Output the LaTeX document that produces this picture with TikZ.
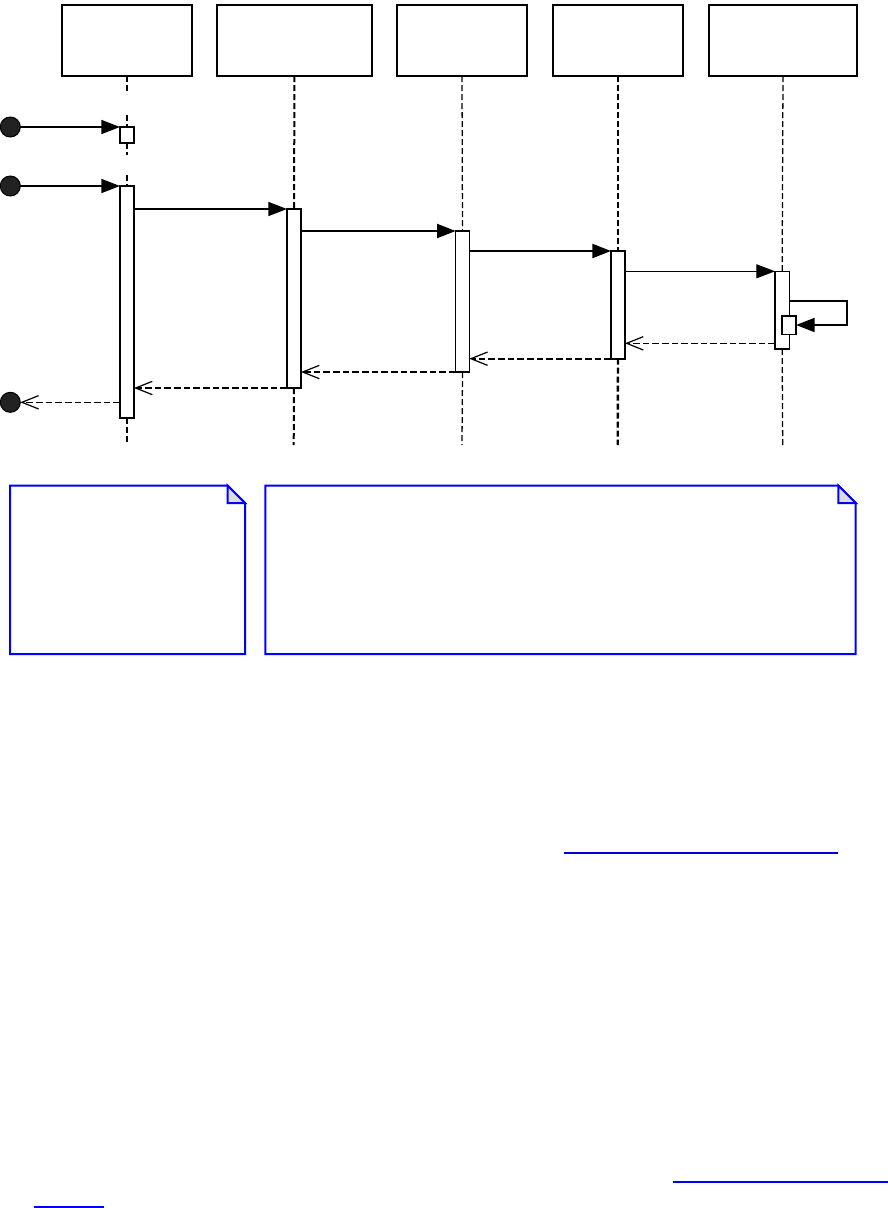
\documentclass[tikz,border=0pt]{standalone}
\usetikzlibrary{arrows.meta,fit,calc}
\definecolor{notefold}{HTML}{DDDDDD}
\definecolor{noteblue}{HTML}{0000FF}
\definecolor{linkdark}{HTML}{0000CC}
\definecolor{actorfill}{HTML}{222222}
\begin{document}
\begin{tikzpicture}[x=0.75pt,y=-0.75pt,
  headbox/.style={draw=black,fill=white,inner sep=0pt,outer sep=0pt},
  actbox/.style={draw=black,fill=white,inner sep=0pt,outer sep=0pt},
  actor/.style={circle,draw=black,fill=actorfill,minimum size=15pt,inner sep=0pt,outer sep=0pt,line width=0.75pt},
  life/.style={draw=black,dash pattern=on 4.5pt off 2.25pt},
  callmsg/.style={draw=black,-{Triangle[length=14pt,width=10.5pt]}},
  retmsg/.style={draw=black,dash pattern=on 5pt off 2.25pt,-{Straight Barb[length=12.5pt,width=10pt,line width=0.9pt]}},
  notebox/.style={draw=noteblue,line width=1.5pt,fill=white},
  notecorner/.style={draw=noteblue,line width=1.5pt,fill=notefold},
  linkline/.style={line width=1.5pt}
]
\useasboundingbox (0,0) rectangle (888,1208);

% header boxes
\node[headbox,line width=2.2pt,fit={(62,5)(192,76)}] (h1) {};
\node[headbox,line width=1.5pt,fit={(217,5)(372,76)}] (h2) {};
\node[headbox,line width=1.5pt,fit={(397,5)(527,76)}] (h3) {};
\node[headbox,line width=1.5pt,fit={(553,5)(683,76)}] (h4) {};
\node[headbox,line width=2.2pt,fit={(709,5)(857,76)}] (h5) {};

% bottom ends of lifelines
\coordinate (e1) at (127,445);
\coordinate (e2) at (293.7,445);
\coordinate (e3) at (462,445);
\coordinate (e4) at (617.7,445);
\coordinate (e5) at (782.7,445);

% activation boxes
\node[actbox,line width=1.5pt,fit={(120,127)(134,143)}] (s1) {};
\node[actbox,line width=1.5pt,fit={(120,186)(134,418)}] (a1) {};
\node[actbox,line width=1.5pt,fit={(287,209)(301,388)}] (a2) {};
\node[actbox,line width=0.9pt,fit={(455.7,231)(469.3,372)}] (a3) {};
\node[actbox,line width=1.8pt,fit={(611,251)(625,358.7)}] (a4) {};
\node[actbox,line width=1.2pt,fit={(775,271.3)(789.3,349)}] (a5) {};

% lifelines
\draw[life,line width=1.5pt] (h1.south) -- (127,94);
\draw[life,line width=1.5pt] (127,115) -- (s1.north);
\draw[life,line width=1.5pt] (s1.south) -- (127,155);
\draw[life,line width=1.5pt] (127,175) -- (a1.north);
\draw[life,line width=1.5pt] (a1.south) -- (e1);
\draw[life,line width=1.5pt] (h2.south) -- (a2.north);
\draw[life,line width=1.5pt] (a2.south) -- (e2);
\draw[life,line width=0.95pt] (h3.south) -- (a3.north);
\draw[life,line width=0.95pt] (a3.south) -- (e3);
\draw[life,line width=1.8pt] (h4.south) -- (a4.north);
\draw[life,line width=1.8pt] (a4.south) -- (e4);
\draw[life,line width=0.95pt] (h5.south) -- (a5.north);
\draw[life,line width=0.95pt] (a5.south) -- (e5);

% nested activation on lifeline 5
\node[actbox,line width=1.2pt,fit={(782,315.7)(796,334.3)}] (n5) {};

% actors
\node[actor] (c1) at (10.3,127) {};
\node[actor] (c2) at (10.3,186) {};
\node[actor] (c3) at (10.3,402.3) {};

% call messages
\draw[callmsg,line width=1.2pt] (c1.east) -- (s1.north west);
\draw[callmsg,line width=1.2pt] (c2.east) -- (a1.north west);
\draw[callmsg,line width=1.2pt] (a1.east |- a2.north) -- (a2.north west);
\draw[callmsg,line width=1.6pt] (a2.east |- a3.north) -- (a3.north west);
\draw[callmsg,line width=1.6pt] (a3.east |- a4.north) -- (a4.north west);
\draw[callmsg,line width=0.9pt] (a4.east |- a5.north) -- (a5.north west);
\coordinate (loopr) at (847.3,301.3);
\draw[callmsg,line width=1.5pt] (a5.east |- loopr) -- (loopr) |- (n5.east);

% return messages
\draw[retmsg,line width=0.8pt] (a5.west |- 0,343.3) -- (a4.east |- 0,343.3);
\draw[retmsg,line width=1.5pt] (a4.south west) -- (a3.east |- a4.south);
\draw[retmsg,line width=1.5pt] (a3.south west) -- (a2.east |- a3.south);
\draw[retmsg,line width=1.5pt] (a2.south west) -- (a1.east |- a2.south);
\draw[retmsg,line width=0.8pt] (a1.west |- c3) -- (c3.east);

% notes
\draw[notebox] (10,485.5) -- (227.5,485.5) -- (245,503) -- (245,654) -- (10,654) -- cycle;
\draw[notecorner] (227.5,485.5) -- (227.5,503) -- (245,503) -- cycle;
\draw[notebox] (265.3,485.5) -- (838.3,485.5) -- (855.7,503) -- (855.7,654) -- (265.3,654) -- cycle;
\draw[notecorner] (838.3,485.5) -- (838.3,503) -- (855.7,503) -- cycle;

% link underlines
\draw[linkline,draw=linkdark] (564,853.3) -- (837.7,853.3);
\draw[linkline,draw=noteblue] (673,1182.3) -- (888,1182.3);
\draw[linkline,draw=noteblue] (34,1206.8) -- (104,1206.8);
\end{tikzpicture}
\end{document}
